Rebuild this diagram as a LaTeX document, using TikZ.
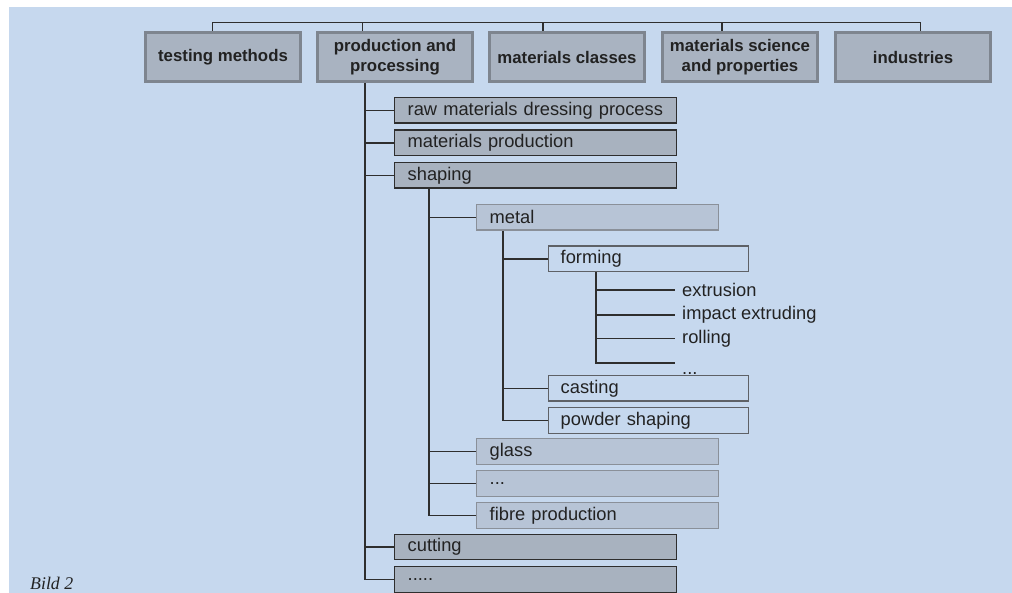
\documentclass[tikz,border=0pt]{standalone}
\usepackage{fontspec}
\setmainfont{Liberation Sans}
\newfontfamily\captfont{Liberation Serif}
\definecolor{bgblue}{HTML}{C6D8EE}
\definecolor{topfill}{HTML}{A9B3C1}
\definecolor{topdraw}{HTML}{7E858F}
\definecolor{lvtwofill}{HTML}{A8B2BF}
\definecolor{lvthreefill}{HTML}{B7C4D6}
\definecolor{lvthreedraw}{HTML}{8A9099}
\definecolor{lvfourdraw}{HTML}{5E6166}
\definecolor{linecol}{HTML}{2E2E2E}
\definecolor{txt}{HTML}{222222}
\begin{document}
\begin{tikzpicture}[x=1pt,y=-1pt,
  topbox/.style={draw=topdraw,line width=3pt,fill=topfill,anchor=north west,minimum width=155pt,minimum height=49pt,inner sep=0pt,align=center,text=txt,font=\fontsize{16.8}{20}\selectfont\bfseries},
  lvtwo/.style={draw=linecol,line width=1.4pt,fill=lvtwofill,anchor=north west,text width=256pt,inner xsep=13pt,inner ysep=0pt,minimum height=25.5pt,align=left,text=txt,font=\fontsize{18.3}{20}\selectfont},
  lvthree/.style={draw=lvthreedraw,line width=1.4pt,fill=lvthreefill,anchor=north west,text width=216pt,inner xsep=13pt,inner ysep=0pt,minimum height=25.5pt,align=left,text=txt,font=\fontsize{18.3}{20}\selectfont},
  lvfour/.style={draw=lvfourdraw,line width=1.4pt,fill=bgblue,anchor=north west,text width=176pt,inner xsep=12pt,inner ysep=0pt,minimum height=25.5pt,align=left,text=txt,font=\fontsize{18.3}{20}\selectfont},
  leaf/.style={anchor=west,inner xsep=7pt,inner ysep=0pt,text=txt,font=\fontsize{18.3}{20}\selectfont},
  conn/.style={draw=linecol,line width=1.4pt}]
\useasboundingbox (0,0) rectangle (1012,593);
\fill[white] (0,0) rectangle (1012,593);
\fill[bgblue] (9,7) rectangle (1012,593);
% top row
\node[topbox] (tm) at (144,31) {testing methods};
\node[topbox] (pp) at (316,31) {production and\\processing};
\node[topbox] (mc) at (488,31) {materials classes};
\node[topbox] (ms) at (661,31) {materials science\\and properties};
\node[topbox] (ind) at (834,31) {industries};
\coordinate (bus) at (0,23);
\coordinate (d1) at ([xshift=68pt]tm.north west);
\coordinate (d2) at ([xshift=46pt]pp.north west);
\coordinate (d3) at ([xshift=55pt]mc.north west);
\coordinate (d4) at ([xshift=61pt]ms.north west);
\coordinate (d5) at ([xshift=86pt]ind.north west);
\draw[draw=linecol,line width=1pt] (d1) -- (d1|-bus) -- (d5|-bus) -- (d5);
\draw[draw=linecol,line width=1pt] (d2) -- (d2|-bus);
\draw[draw=linecol,line width=1.4pt] (d3) -- (d3|-bus);
\draw[draw=linecol,line width=1.4pt] (d4) -- (d4|-bus);
% level two
\node[lvtwo] (raw) at (394,97) {raw materials dressing process};
\node[lvtwo] (mp) at (394,129.5) {materials production};
\node[lvtwo] (sh) at (394,162) {shaping};
\node[lvtwo] (cut) at (394,533.5) {cutting};
\node[lvtwo] (dd) at (394,566) {.....};
% level three
\node[lvthree] (met) at (476,204) {metal};
\node[lvthree] (gl) at (476,438) {glass};
\node[lvthree] (td) at (476,470) {...};
\node[lvthree] (fib) at (476,502) {fibre production};
% level four and leaves
\node[lvfour] (form) at (548,245.5) {forming};
\node[leaf] (ext) at (675,290) {extrusion};
\node[leaf] (imp) at (675,315) {impact extruding};
\node[leaf] (rol) at (675,338.5) {rolling};
\coordinate (ld) at (675,363);
\node[anchor=base west,inner xsep=7pt,inner ysep=0pt,text=txt,font=\fontsize{18.3}{20}\selectfont] (ldt) at (675,374.5) {...};
\node[lvfour] (cast) at (548,375) {casting};
\node[lvfour] (pow) at (548,407) {powder shaping};
% connectors
\coordinate (pv) at ([xshift=49pt]pp.south west);
\draw[conn] (pv) |- (dd.west);
\foreach \n in {raw,mp,sh,cut} \draw[conn] (pv|-\n.west) -- (\n.west);
\coordinate (sv) at ([xshift=35pt]sh.south west);
\draw[conn] (sv) |- (fib.west);
\foreach \n in {met,gl,td} \draw[conn] (sv|-\n.west) -- (\n.west);
\coordinate (mv) at ([xshift=27pt]met.south west);
\draw[conn] (mv) |- (pow.west);
\foreach \n in {form,cast} \draw[conn] (mv|-\n.west) -- (\n.west);
\coordinate (fv) at ([xshift=48pt]form.south west);
\draw[conn] (fv) |- (ld);
\foreach \n in {ext,imp,rol} \draw[conn] (fv|-\n.west) -- (\n.west);
% caption
\node[anchor=west,inner sep=0pt,text=txt,font=\captfont\itshape\fontsize{17.8}{20}\selectfont] (cap) at (30,583) {Bild 2};
\end{tikzpicture}
\end{document}
